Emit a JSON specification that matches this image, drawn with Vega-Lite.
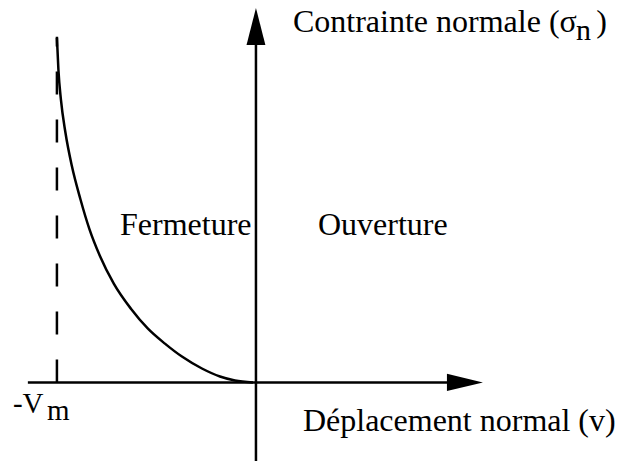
{
  "$schema": "https://vega.github.io/schema/vega-lite/v6.json",
  "width": 618,
  "height": 463,
  "autosize": {"type": "fit", "contains": "padding"},
  "padding": 0,
  "background": "white",
  "config": {"view": {"stroke": null}},
  "datasets": {
    "axes": [
      {"name": "v", "x1": -1.146, "y1": 0, "x2": 1.0, "y2": 0},
      {"name": "sigma", "x1": 0, "y1": -0.228, "x2": 0, "y2": 1.0}
    ],
    "dash": [
      {"x1": -1.0, "y1": 0, "y2": 1.003}
    ],
    "curve": [
      {"v": -1.0, "s": 1.0},
      {"v": -0.9925, "s": 0.9075},
      {"v": -0.9799, "s": 0.8208},
      {"v": -0.9573, "s": 0.7254},
      {"v": -0.9246, "s": 0.6272},
      {"v": -0.8819, "s": 0.5318},
      {"v": -0.8367, "s": 0.4451},
      {"v": -0.7839, "s": 0.3671},
      {"v": -0.7136, "s": 0.2861},
      {"v": -0.6281, "s": 0.2139},
      {"v": -0.5427, "s": 0.1561},
      {"v": -0.4573, "s": 0.1127},
      {"v": -0.3719, "s": 0.0751},
      {"v": -0.2714, "s": 0.0405},
      {"v": -0.1809, "s": 0.0173},
      {"v": -0.1055, "s": 0.0058},
      {"v": -0.0151, "s": 0.0}
    ],
    "arrows": [
      {"dir": "up", "x": 0, "y": 1.033},
      {"dir": "right", "x": 1.05, "y": 0}
    ],
    "labels": [
      {"t": "Contrainte normale (σ", "x": 0.186, "y": 1.017, "size": 32},
      {"t": "n", "x": 1.608, "y": 0.994, "size": 30},
      {"t": ")", "x": 1.71, "y": 1.017, "size": 32},
      {"t": "Fermeture", "x": -0.683, "y": 0.4277, "size": 32},
      {"t": "Ouverture", "x": 0.3116, "y": 0.4277, "size": 32},
      {"t": "-V", "x": -1.221, "y": -0.0896, "size": 29},
      {"t": "m", "x": -1.05, "y": -0.1098, "size": 29},
      {"t": "Déplacement normal (v)", "x": 0.236, "y": -0.1416, "size": 32}
    ]
  },
  "layer": [
    {
      "data": {"name": "axes"},
      "mark": {"type": "rule", "color": "black", "strokeWidth": 2.5},
      "encoding": {
        "x": {"field": "x1", "type": "quantitative", "scale": {"domain": [-1.286, 1.819], "nice": false, "zero": false}, "axis": null},
        "y": {"field": "y1", "type": "quantitative", "scale": {"domain": [-0.228, 1.11], "nice": false, "zero": false}, "axis": null},
        "x2": {"field": "x2"},
        "y2": {"field": "y2"}
      }
    },
    {
      "data": {"name": "dash"},
      "mark": {"type": "rule", "color": "black", "strokeWidth": 2.5, "strokeDash": [23, 25]},
      "encoding": {
        "x": {"field": "x1", "type": "quantitative"},
        "y": {"field": "y1", "type": "quantitative"},
        "y2": {"field": "y2"}
      }
    },
    {
      "data": {"name": "curve"},
      "mark": {"type": "line", "color": "black", "strokeWidth": 2.5, "interpolate": "monotone"},
      "encoding": {
        "x": {"field": "v", "type": "quantitative"},
        "y": {"field": "s", "type": "quantitative"}
      }
    },
    {
      "data": {"name": "arrows"},
      "transform": [{"filter": "datum.dir === 'up'"}],
      "mark": {"type": "point", "shape": "M0,-1L0.51,1L-0.51,1Z", "filled": true, "color": "black", "opacity": 1, "size": 1369},
      "encoding": {
        "x": {"field": "x", "type": "quantitative"},
        "y": {"field": "y", "type": "quantitative"}
      }
    },
    {
      "data": {"name": "arrows"},
      "transform": [{"filter": "datum.dir === 'right'"}],
      "mark": {"type": "point", "shape": "M1,0L-1,0.48L-1,-0.48Z", "filled": true, "color": "black", "opacity": 1, "size": 1296},
      "encoding": {
        "x": {"field": "x", "type": "quantitative"},
        "y": {"field": "y", "type": "quantitative"}
      }
    },
    {
      "data": {"name": "labels"},
      "mark": {"type": "text", "font": "Liberation Serif", "align": "left", "baseline": "alphabetic", "color": "black"},
      "encoding": {
        "x": {"field": "x", "type": "quantitative"},
        "y": {"field": "y", "type": "quantitative"},
        "text": {"field": "t"},
        "size": {"field": "size", "type": "quantitative", "scale": null}
      }
    }
  ]
}
